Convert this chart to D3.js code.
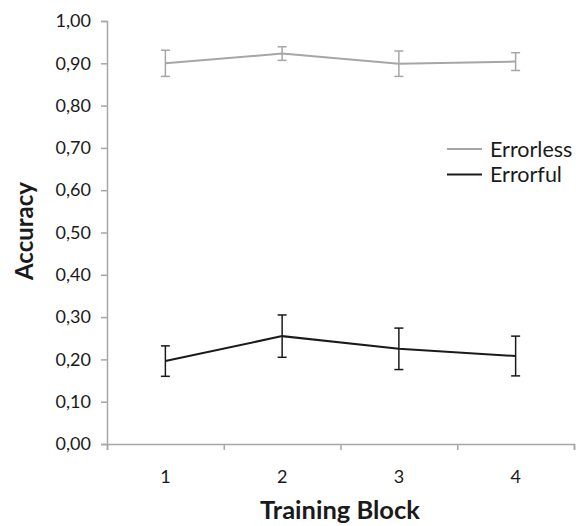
<!DOCTYPE html>
<html>
<head>
<meta charset="utf-8">
<script src="https://cdn.jsdelivr.net/npm/d3@7"></script>
<style>
  body { margin: 0; background: #fff; }
  text { font-family: Lato, "Open Sans", sans-serif; fill: #1a1a1a; }
</style>
</head>
<body>
<svg id="chart"></svg>
<script>
// values
const blocks = [1, 2, 3, 4]
const errorless = [0.900, 0.923, 0.899, 0.904]
const errorlessErr = [0.031, 0.016, 0.030, 0.021]
const errorful = [0.196, 0.255, 0.225, 0.208]
const errorfulErr = [0.036, 0.050, 0.049, 0.047]
const yTicks = [0, 0.1, 0.2, 0.3, 0.4, 0.5, 0.6, 0.7, 0.8, 0.9, 1.0]

const width = 581, height = 526
const margin = { top: 21, right: 7, bottom: 82, left: 107 }

const svg = d3.select("#chart")
    .attr("width", width)
    .attr("height", height)

const x = d3.scaleBand()
    .domain(blocks)
    .range([margin.left, width - margin.right])
    .paddingInner(0)
    .paddingOuter(0)

const xEdges = d3.scaleLinear()
    .domain([0, blocks.length])
    .range([margin.left, width - margin.right])

const y = d3.scaleLinear()
    .domain([0, 1])
    .range([height - margin.bottom, margin.top])

const axisColor = "#a6a6a6"

// y axis
const gy = svg.append("g")
    .attr("transform", "translate(" + margin.left + ",0)")
    .call(d3.axisLeft(y)
      .tickValues(yTicks)
      .tickSize(6)
      .tickPadding(10)
      .tickFormat(d => d3.format(".2f")(d).replace(".", ",")))
gy.select(".domain").attr("stroke", axisColor).attr("stroke-width", 1.5)
gy.selectAll(".tick line").attr("stroke", axisColor).attr("stroke-width", 1.5)
gy.selectAll(".tick text").attr("font-size", 18).attr("fill", "#1a1a1a")
    .style("font-family", "Lato, sans-serif")

// x axis: ticks at band edges
const gx = svg.append("g")
    .attr("transform", "translate(0," + y(0) + ")")
    .call(d3.axisBottom(xEdges)
      .ticks(blocks.length)
      .tickSize(6)
      .tickFormat(""))
gx.select(".domain").attr("stroke", axisColor).attr("stroke-width", 1.5)
gx.selectAll(".tick line").attr("stroke", axisColor).attr("stroke-width", 1.5)

// x labels at band centres
svg.append("g").selectAll("text")
    .data(blocks)
  .enter().append("text")
    .attr("x", d => x(d) + x.bandwidth() / 2)
    .attr("y", y(0) + 39)
    .attr("text-anchor", "middle")
    .attr("font-size", 18)
    .text(d => d)

// axis titles
svg.append("text")
    .attr("x", 340)
    .attr("y", 519)
    .attr("text-anchor", "middle")
    .attr("font-size", 25.5)
    .attr("font-weight", "bold")
    .text("Training Block")

svg.append("text")
    .attr("transform", "translate(33," + 231 + ") rotate(-90)")
    .attr("text-anchor", "middle")
    .attr("font-size", 24)
    .attr("font-weight", "bold")
    .text("Accuracy")

const series = [
  { name: "Errorless", values: errorless, errs: errorlessErr, color: "#a6a6a6" },
  { name: "Errorful", values: errorful, errs: errorfulErr, color: "#1a1a1a" }
]

const line = d3.line()
    .x((d, i) => x(blocks[i]) + x.bandwidth() / 2)
    .y(d => y(d))

series.forEach(s => {
  svg.append("path")
      .datum(s.values)
      .attr("fill", "none")
      .attr("stroke", s.color)
      .attr("stroke-width", 2)
      .attr("d", line)

  const g = svg.append("g").attr("stroke", s.color).attr("stroke-width", 1.5)
  s.values.forEach((v, i) => {
    const cx = x(blocks[i]) + x.bandwidth() / 2
    const top = y(v + s.errs[i]), bot = y(v - s.errs[i])
    g.append("line").attr("x1", cx).attr("x2", cx).attr("y1", top).attr("y2", bot)
    g.append("line").attr("x1", cx - 4.5).attr("x2", cx + 4.5).attr("y1", top).attr("y2", top)
    g.append("line").attr("x1", cx - 4.5).attr("x2", cx + 4.5).attr("y1", bot).attr("y2", bot)
  })
})

// legend
const legend = svg.append("g").selectAll("g")
    .data(series)
  .enter().append("g")
    .attr("transform", (d, i) => "translate(447," + (149 + i * 25.5) + ")")
legend.append("line")
    .attr("x1", 0).attr("x2", 35)
    .attr("stroke", d => d.color)
    .attr("stroke-width", 2)
legend.append("text")
    .attr("x", 43)
    .attr("dy", "0.35em")
    .attr("font-size", 21.5)
    .text(d => d.name)
</script>
</body>
</html>
